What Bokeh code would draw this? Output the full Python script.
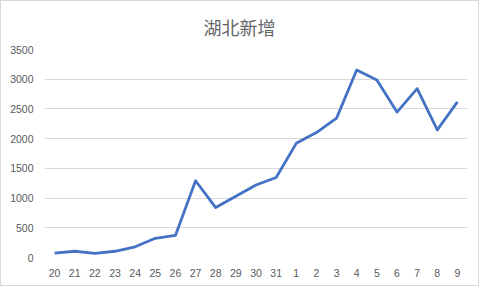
from bokeh.plotting import figure
from bokeh.models import ColumnDataSource, FactorRange, Range1d, FixedTicker, Title
from bokeh.embed import file_html
from bokeh.resources import INLINE

days = ["20", "21", "22", "23", "24", "25", "26", "27", "28", "29", "30", "31",
        "1", "2", "3", "4", "5", "6", "7", "8", "9"]
new_cases = [72, 105, 69, 105, 180, 323, 371, 1291, 840, 1032, 1220, 1347,
             1921, 2103, 2345, 3156, 2987, 2447, 2841, 2147, 2618]
y_ticks = [0, 500, 1000, 1500, 2000, 2500, 3000, 3500]
title_text = "湖北新增"

src = ColumnDataSource(dict(x=days, y=new_cases))

p = figure(width=479, height=286, x_range=FactorRange(*days, range_padding=0),
           y_range=Range1d(0, 3500), output_backend="svg", toolbar_location=None,
           min_border_left=43, min_border_right=13, min_border_top=0, min_border_bottom=30)
p.styles = {"border": "1px solid #d9d9d9"}

t = Title(text=title_text, align="left", text_font="Noto Sans CJK SC",
          text_font_size="18px", text_color="#666666", text_font_style="normal",
          standoff=20, offset=159)
p.add_layout(t, "above")

p.line("x", "y", source=src, line_color="#4472C4", line_width=2.8, line_join="round")

p.outline_line_color = None
p.xgrid.grid_line_color = None
p.ygrid.grid_line_color = "#d9d9d9"
p.ygrid.grid_line_width = 1
p.yaxis.ticker = FixedTicker(ticks=y_ticks)
for ax in (p.xaxis[0], p.yaxis[0]):
    ax.axis_line_color = None
    ax.major_tick_line_color = None
    ax.minor_tick_line_color = None
    ax.major_label_text_font = "Liberation Sans"
    ax.major_label_text_font_size = "10.5px"
    ax.major_label_text_color = "#595959"
p.yaxis.major_label_standoff = 5
p.xaxis.major_label_standoff = 5
p.xaxis.group_text_font_size = "0px"

open("out.html", "w").write(file_html(p, INLINE))
